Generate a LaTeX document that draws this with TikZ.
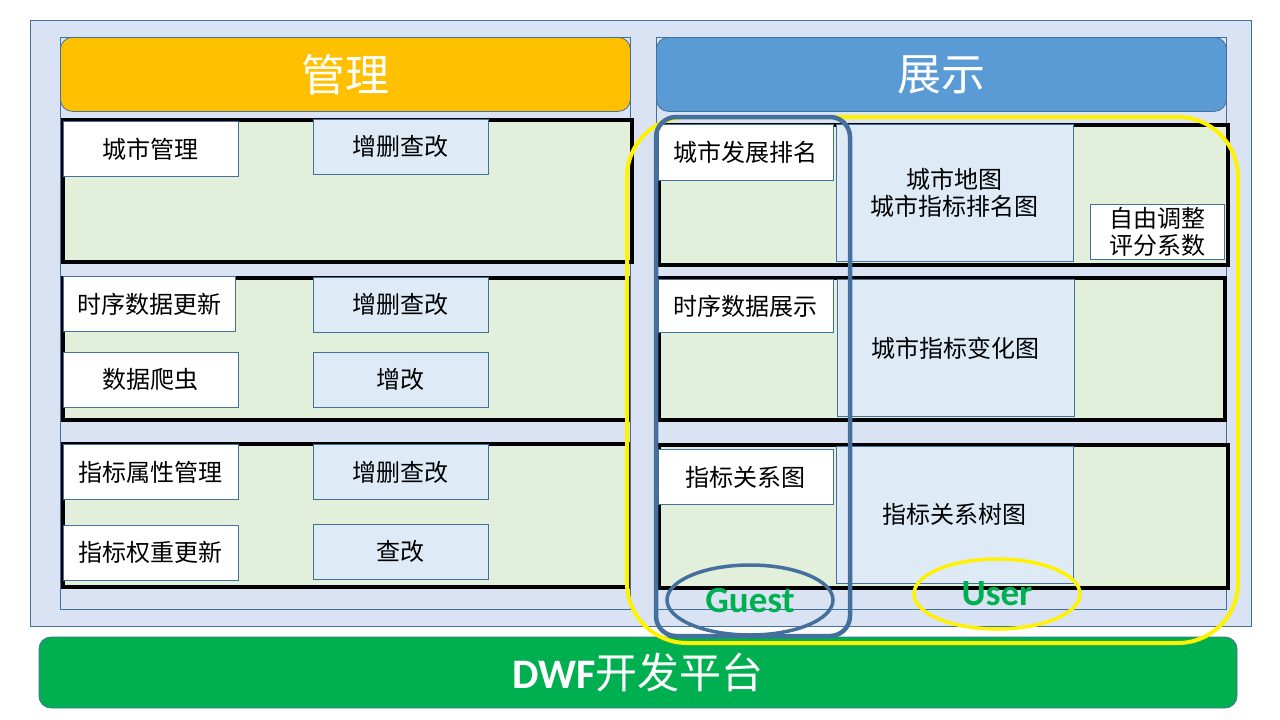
\documentclass[tikz,border=0pt]{standalone}
\usepackage{fontspec}
\setmainfont{Noto Sans CJK SC}
\newfontfamily\latfont{Carlito}
\usetikzlibrary{positioning,shapes.geometric}

\definecolor{paneblue}{HTML}{DAE3F3}
\definecolor{edgeblue}{HTML}{41719C}
\definecolor{bandgreen}{HTML}{E2EFDA}
\definecolor{opblue}{HTML}{DEEBF7}
\definecolor{mgmtorange}{HTML}{FFC000}
\definecolor{showblue}{HTML}{5B9BD5}
\definecolor{dwfgreen}{HTML}{00B050}
\definecolor{guestblue}{HTML}{45709E}

\begin{document}
\begin{tikzpicture}[
  x = 1pt,
  y = -1pt,
  panel/.style = {
    draw = edgeblue,
    fill = paneblue,
    line width = 0.8pt,
    anchor = north west,
    inner sep = 0pt,
  },
  header/.style = {
    draw = edgeblue,
    line width = 0.8pt,
    rounded corners = 12pt,
    anchor = north west,
    minimum width = 570pt,
    minimum height = 74pt,
    inner sep = 0pt,
    text = white,
    font = \fontsize{44}{48}\selectfont,
  },
  band/.style = {
    draw = black,
    line width = 3.5pt,
    fill = bandgreen,
    anchor = north west,
    minimum width = 569pt,
    minimum height = 142pt,
    inner sep = 0pt,
  },
  entry/.style = {
    draw = edgeblue,
    fill = white,
    line width = 0.8pt,
    minimum width = 175pt,
    minimum height = 55pt,
    inner sep = 0pt,
    align = center,
    font = \fontsize{24}{27}\selectfont,
  },
  action/.style = {
    entry,
    fill = opblue,
  },
  chart/.style = {
    action,
    minimum width = 237pt,
    minimum height = 137pt,
  },
  role/.style = {
    ellipse,
    line width = 3.5pt,
    minimum width = 166pt,
    minimum height = 70pt,
    inner sep = 0pt,
    text = dwfgreen,
    font = \latfont\bfseries\fontsize{37}{39}\selectfont,
  },
]

  \useasboundingbox (0,0) rectangle (1280,720);

  \node[panel, minimum width=1221pt, minimum height=606pt] (frame) at (30,20) {};
  \node[panel, minimum width=570pt, minimum height=572pt] (lp) at (60,37) {};
  \node[panel, minimum width=570pt, minimum height=572pt] (rp) at (656,37) {};

  \node[header, fill=mgmtorange] (lh) at (60,37) {管理};
  \node[header, fill=showblue] (rh) at (656,37) {展示};

  \node[band] (lr1) at (61,118) {};
  \node[entry] (lm1) [below right=3pt and 2pt of lr1.north west] {城市管理};
  \node[action] (lo1) [right=74pt of lm1, yshift=2pt] {增删查改};

  \node[band, minimum width=565pt] (lr2) at (61,276) {};
  \node[entry, minimum width=172pt] (lm2) [below right=0pt and 2pt of lr2.north west] {时序数据更新};
  \node[action] (lo2) [right=77pt of lm2, yshift=-1pt] {增删查改};
  \node[entry] (lm3) [below=20pt of lm2.south west, anchor=north west] {数据爬虫};
  \node[action] (lo3) [right=74pt of lm3] {增改};

  \node[band, minimum width=565pt, minimum height=143pt] (lr3) at (61,442) {};
  \node[entry] (lm4) [below right=2pt and 2pt of lr3.north west] {指标属性管理};
  \node[action] (lo4) [right=74pt of lm4] {增删查改};
  \node[entry] (lm5) [below=25pt of lm4] {指标权重更新};
  \node[action] (lo5) [right=74pt of lm5, yshift=1pt] {查改};

  \node[band, minimum height=140pt] (rr1) at (657,123) {};
  \node[entry, minimum height=56pt] (rs1) [below right=1pt and 1pt of rr1.north west] {城市发展排名};
  \node[chart] (rc1) [right=2pt of rs1.north east, anchor=north west] {城市地图\\城市指标排名图};
  \node[entry, minimum width=134pt] (rf) at (1157,231.5) {自由调整\\评分系数};

  \node[band, minimum width=566pt] (rr2) at (657,276) {};
  \node[entry, minimum height=53pt] (rs2) [below right=3pt and 1pt of rr2.north west] {时序数据展示};
  \node[chart] (rc2) [right=3pt of rs2.north east, anchor=north west] {城市指标变化图};

  \node[band, minimum height=143pt] (rr3) at (657,443) {};
  \node[entry] (rs3) [below right=6pt and 1pt of rr3.north west] {指标关系图};
  \node[chart] (rc3) at (954.5,514.5) {指标关系树图};

  \node[draw=edgeblue, fill=dwfgreen, line width=0.8pt, rounded corners=12pt,
        minimum width=1198pt, minimum height=71pt, inner sep=0pt, text=white,
        font=\fontsize{42}{44}\selectfont] (dwf) at (638,672.5)
        {{\latfont\bfseries DWF}开发平台};

  \draw[yellow, line width=4pt, rounded corners=60pt] (627,117) rectangle (1238,643);
  \draw[guestblue, line width=4.5pt, rounded corners=20pt] (656,117) rectangle (850,636);

  \node[role, draw=guestblue] (guest) at (750,600) {Guest};
  \node[role, draw=yellow] (user) at (997,594) {User};
\end{tikzpicture}
\end{document}
